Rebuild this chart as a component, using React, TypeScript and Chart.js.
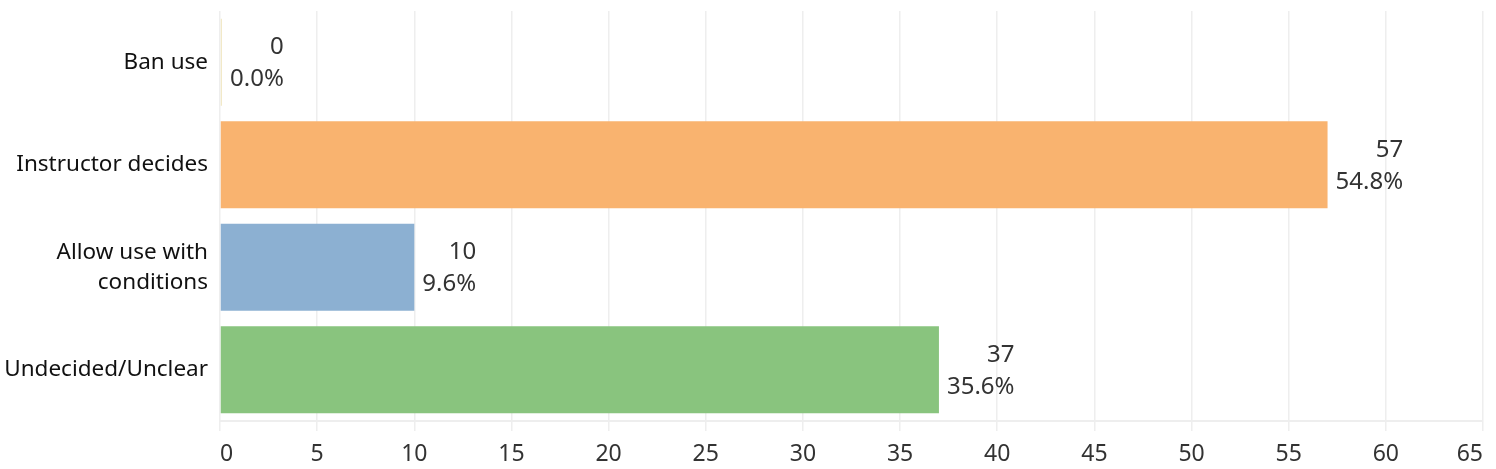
import React, { useEffect, useRef } from "react";
import { Chart, registerables } from "chart.js";

Chart.register(...registerables);

const categories: (string | string[])[] = [
  "Ban use",
  "Instructor decides",
  ["Allow use with", "conditions"],
  "Undecided/Unclear",
];
const counts = [0, 57, 10, 37];
const percents = ["0.0%", "54.8%", "9.6%", "35.6%"];
const barColors = ["#F2E9C8", "#F9B36F", "#8CB0D2", "#89C47E"];
const xTicks = [0, 5, 10, 15, 20, 25, 30, 35, 40, 45, 50, 55, 60, 65];

const FONT = "'Noto Sans', sans-serif";

const labelPlugin = {
  id: "barLabels",
  afterDatasetsDraw(chart: any) {
    const ctx = chart.ctx;
    const meta = chart.getDatasetMeta(0);
    ctx.save();
    ctx.font = `24px ${FONT}`;
    ctx.fillStyle = "#333333";
    ctx.textAlign = "right";
    ctx.textBaseline = "middle";
    meta.data.forEach((bar: any, i: number) => {
      const l1 = String(counts[i]);
      const l2 = percents[i];
      const w = Math.max(ctx.measureText(l1).width, ctx.measureText(l2).width);
      const xr = bar.x + 8 + w;
      ctx.fillText(l1, xr, bar.y - 15);
      ctx.fillText(l2, xr, bar.y + 17);
    });
    ctx.restore();
  },
};

export default function App() {
  const ref = useRef<HTMLCanvasElement | null>(null);
  useEffect(() => {
    if (!ref.current) return;
    const chart = new Chart(ref.current, {
      type: "bar",
      data: {
        labels: categories,
        datasets: [
          {
            data: counts,
            backgroundColor: barColors,
            borderWidth: 0,
            minBarLength: 2,
            barPercentage: 0.85,
            categoryPercentage: 1,
          },
        ],
      },
      options: {
        indexAxis: "y",
        animation: false,
        responsive: false,
        maintainAspectRatio: false,
        layout: { padding: { top: 11, right: 13, left: 0, bottom: 0 } },
        plugins: {
          legend: { display: false },
          tooltip: { enabled: false },
        },
        scales: {
          x: {
            min: 0,
            max: 65,
            afterBuildTicks: (scale: any) => {
              scale.ticks = xTicks.map((v) => ({ value: v }));
            },
            afterFit: (scale: any) => {
              scale.height = 48;
              scale.paddingLeft = 0;
              scale.paddingRight = 0;
            },
            grid: {
              color: "#EEEEEE",
              lineWidth: 1.5,
              tickLength: 10,
              drawTicks: true,
            },
            border: { display: true, color: "#EEEEEE", width: 2 },
            ticks: {
              align: "inner",
              padding: 10,
              color: "#333333",
              font: { family: FONT, size: 23 },
              maxRotation: 0,
            },
          },
          y: {
            afterFit: (scale: any) => {
              scale.width = 220;
              scale.paddingTop = 0;
              scale.paddingBottom = 0;
            },
            grid: { display: false, drawTicks: false },
            border: { display: false },
            ticks: {
              padding: 12,
              color: "#111111",
              font: { family: FONT, size: 22.5, lineHeight: 1.34 },
            },
          },
        },
      },
      plugins: [labelPlugin],
    });
    return () => chart.destroy();
  }, []);
  return (
    <div style={{ position: "fixed", left: 0, top: 0, width: 1496, height: 469, background: "#fff" }}>
      <canvas ref={ref} width={1496} height={469} style={{ display: "block" }} />
    </div>
  );
}
